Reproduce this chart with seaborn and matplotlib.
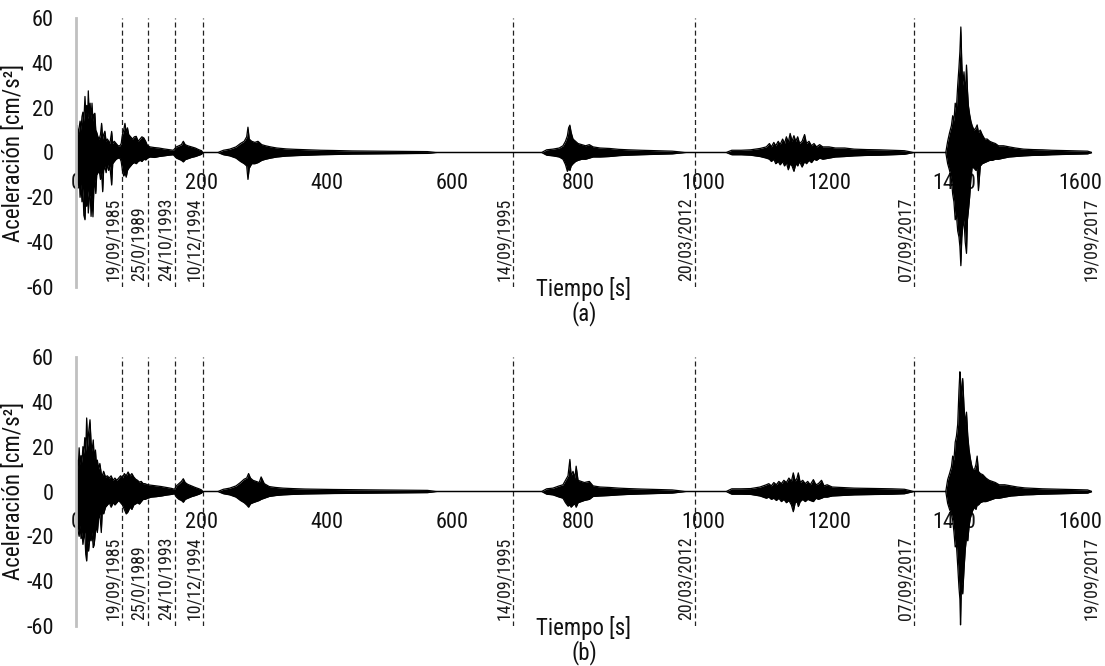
import numpy as np
import pandas as pd
import matplotlib
matplotlib.use("Agg")
import matplotlib.pyplot as plt
import seaborn as sns
from matplotlib import font_manager

# ---------------- data (envelopes) ----------------
# each row: (time [s], upper peak [cm/s2], lower peak [cm/s2])
a_ev1 = [(0, 0, 0), (0.8, 10, -8), (2, 12, -12), (3.5, 8, -15), (5, 11, -10), (6.5, 14, -20),
         (8, 10, -14), (9.5, 16, -22), (11, 18, -16), (12.5, 14, -28), (14.3, 25, -30),
         (15.5, 17, -20), (17, 21, -24), (18.5, 15, -17), (19.6, 27.5, -27), (21, 16, -20),
         (22.5, 22, -18), (24, 15, -28.5), (25.5, 22, -20), (27, 14, -28.7), (28.5, 17, -16),
         (30, 17.5, -12), (31.5, 10, -18.3), (33, 9, -10), (35, 7, -9), (37, 6, -8), (39, 8, -12),
         (40.8, 13, -9), (42.5, 6, -17.5), (44, 8, -8), (46, 9.5, -6), (48, 5, -9), (50, 6, -5),
         (52, 5, -8), (54, 4, -6), (56.8, 9.4, -14.5), (58.5, 4, -5), (61, 5, -4), (64, 4, -3),
         (67, 3, -2.5), (70, 3, -2.5)]
a_ev2 = [(72, 4, -4), (74, 8, -8), (76, 10, -10.5), (78, 13, -9), (80, 9, -11), (82, 11, -8),
         (84, 8, -7), (87, 7, -6), (90, 6, -5), (93, 7, -4.5), (96, 7.2, -5), (99, 5, -4),
         (102, 6, -3.5), (105, 7, -4), (108, 6.5, -3), (111, 5, -3.3), (114, 3, -2.5)]
a_ev3 = [(118, 2.5, -2), (125, 2.2, -2.2), (132, 2, -1.8), (140, 1.6, -1.5), (148, 1.3, -1.2),
         (155, 1, -1)]
a_ev4 = [(160, 2.5, -2.5), (164, 3, -3), (168, 3.5, -3.5), (171, 5, -4.2), (174, 3.5, -3.2),
         (178, 3, -2.8), (184, 2.5, -2.2), (190, 2, -1.8), (196, 1.2, -1.2), (200, 0.8, -0.8),
         (202, 0, 0)]
a_ev5 = [(226, 0, 0), (235, 1, -1), (245, 1.5, -1.5), (255, 2.5, -2.5), (262, 4, -4), (268, 5, -5),
         (272, 7, -6), (274, 11.3, -12), (276, 6, -7), (280, 5, -5), (285, 4.5, -5), (290, 5, -4.5),
         (296, 3.5, -3.5), (302, 3, -3), (310, 2.5, -2.5), (320, 2, -2), (335, 1.6, -1.6),
         (350, 1.4, -1.4), (370, 1.2, -1.2), (390, 1, -1), (410, 0.9, -0.9), (440, 0.7, -0.7),
         (480, 0.6, -0.6), (520, 0.5, -0.5), (560, 0.4, -0.4), (575, 0, 0)]
a_ev6 = [(742, 0, 0), (750, 1.2, -1.2), (760, 1.5, -1.5), (770, 2, -2), (776, 3, -3), (780, 5, -5.4),
         (783, 7.4, -8.4), (785, 11, -7), (787, 12.2, -8), (789, 9, -6), (792, 6, -5), (796, 5, -4),
         (800, 4, -3.5), (806, 3.5, -3), (812, 3, -3), (818, 3.5, -2.5), (824, 2.5, -2),
         (835, 2, -2), (850, 1.8, -1.8), (865, 1.4, -1.4), (880, 1.2, -1.2), (900, 1, -1),
         (925, 0.8, -0.8), (950, 0.6, -0.6), (972, 0, 0)]
a_ev7 = [(1036, 0, 0), (1045, 1, -1), (1060, 1, -1), (1075, 1.2, -1.2), (1090, 1.8, -1.8),
         (1100, 2.5, -2.5), (1105, 4, -3), (1108, 2.5, -4), (1112, 4.5, -3), (1115, 3, -5),
         (1119, 5, -4), (1122, 3.5, -5.5), (1126, 6, -4), (1129, 4, -6), (1132, 7, -4.5),
         (1135, 4.5, -7.7), (1138, 8.5, -5), (1141, 5, -6), (1144, 7.5, -8.4), (1147, 5, -5),
         (1150, 7, -6), (1153, 4, -4), (1157, 5, -6.5), (1161, 8, -4), (1164, 4, -5),
         (1168, 5, -3.5), (1172, 3, -4.5), (1176, 4, -3), (1180, 2.5, -3.5), (1185, 3.5, -2.5),
         (1190, 2.5, -3), (1200, 2.5, -2.5), (1210, 2, -2), (1225, 2, -1.8), (1240, 1.5, -1.5),
         (1260, 1.3, -1.3), (1280, 1.2, -1.2), (1300, 1, -1), (1320, 0.8, -0.8), (1335, 0, 0)]
a_ev8 = [(1386, 0, 0), (1389, 5, -5), (1392, 8.8, -8), (1395, 12, -12), (1397, 16.4, -18.6),
         (1399, 14, -22), (1401, 22, -30), (1403, 20, -28), (1405, 30, -35), (1407, 38, -37.7),
         (1408.5, 45, -42), (1410, 56, -50.5), (1411.5, 40, -38), (1413, 30, -33), (1415, 36, -30),
         (1417, 25, -40), (1419, 39, -45), (1420.5, 28, -30), (1422, 21, -26), (1424, 17, -20),
         (1426, 14, -12), (1428, 12, -6.5), (1431, 10, -7), (1434, 11, -8), (1436, 12.3, -7),
         (1438, 9, -17), (1441, 10, -6), (1444, 8, -5), (1448, 6, -4.5), (1452, 6, -4),
         (1456, 5, -3.5), (1460, 4.5, -3.5), (1465, 4, -3), (1470, 3, -3), (1478, 3, -2.5),
         (1487, 2.5, -2), (1497, 2, -1.8), (1510, 1.5, -1.5), (1525, 1.3, -1.3), (1540, 1.2, -1.2),
         (1555, 1, -1), (1570, 0.9, -0.9), (1585, 0.8, -0.8), (1600, 0.7, -0.7), (1612, 0.6, -0.6),
         (1619, 0, 0)]

b_ev1 = [(0, 0, 0), (0.8, 12, -14), (2, 14, -16), (3.5, 10, -18), (5, 19.5, -20), (6.5, 12, -15),
         (8, 16, -21), (9.5, 13, -18), (11, 20, -23.6), (12.5, 17, -20), (14, 24, -18),
         (15.5, 18, -28), (17, 32.8, -31), (18.5, 20, -22), (20, 26, -26.6), (22.3, 32, -20),
         (24, 22, -22), (25.5, 18, -18), (27.5, 23, -25), (29, 15, -23.6), (31, 18.5, -18),
         (32.5, 12, -15), (34, 14, -18.3), (36, 10, -12), (38, 12.5, -10), (40.3, 8, -18.3),
         (42, 7, -8), (44, 9, -10), (47, 6.5, -7), (50, 7, -6), (53, 6, -5), (56, 7, -7),
         (59, 5, -5), (62, 6, -6), (65, 5, -5), (68, 6, -4), (71, 7, -5)]
b_ev2 = [(74, 6, -6), (77, 8, -8), (80, 7, -10), (83, 8.7, -9), (86, 7, -7), (89, 8, -8),
         (92, 6.5, -6), (95, 5.5, -5.5), (98, 5, -5), (101, 4.2, -5.6), (104, 4.5, -4.5),
         (107, 3.5, -3.5), (110, 3.5, -3.5), (114, 3, -3)]
b_ev3 = [(120, 2.8, -2.5), (128, 2.5, -2.3), (136, 2.2, -2), (144, 1.8, -1.6), (152, 1.4, -1.3),
         (157, 1, -1)]
b_ev4 = [(160, 2.5, -2.5), (164, 3.5, -3.5), (168, 4.5, -4), (171, 5.7, -4.8), (174, 4, -3.5),
         (178, 3.2, -3), (184, 2.5, -2.3), (190, 1.8, -1.8), (196, 1.2, -1.2), (200, 0.7, -0.7),
         (202, 0, 0)]
b_ev5 = [(226, 0, 0), (235, 1, -1), (245, 1.5, -1.5), (255, 2.5, -2.5), (262, 4, -4), (268, 5.5, -5),
         (272, 6, -6), (275, 8, -7), (278, 6, -5.5), (282, 5, -5), (287, 4.5, -4.5), (292, 4, -4),
         (295, 6.5, -3.5), (300, 3.5, -3), (308, 2.2, -2.2), (318, 1.8, -1.8), (330, 1.5, -1.5),
         (345, 1.3, -1.3), (365, 1.1, -1.1), (385, 1, -1), (410, 0.9, -0.9), (440, 0.8, -0.8),
         (480, 0.7, -0.7), (520, 0.6, -0.6), (560, 0.5, -0.5), (575, 0, 0)]
b_ev6 = [(742, 0, 0), (750, 1.2, -1.2), (760, 1.5, -1.5), (770, 2.5, -2.5), (776, 3, -3), (780, 5, -5),
         (784, 7, -6.5), (787, 14.3, -6), (789, 7, -7), (792, 9, -6), (795, 6, -5.5), (797, 11.3, -7),
         (800, 5, -5), (805, 4.5, -4.5), (810, 4, -4), (818, 4.5, -3.5), (824, 2.5, -2.2),
         (835, 2, -2), (850, 1.8, -1.8), (865, 1.5, -1.5), (880, 1.3, -1.3), (900, 1.1, -1.1),
         (925, 0.9, -0.9), (950, 0.7, -0.7), (972, 0, 0)]
b_ev7 = [(1036, 0, 0), (1045, 1.2, -1.2), (1060, 1.2, -1.2), (1075, 1.3, -1.3), (1090, 2, -2),
         (1100, 3, -3), (1104, 3.5, -2.5), (1108, 2.5, -3.5), (1112, 4, -3), (1116, 3, -4),
         (1120, 4.5, -3), (1124, 3.5, -4.5), (1128, 5, -3.5), (1132, 4, -5), (1136, 6, -4),
         (1140, 4.5, -6), (1143, 8.3, -9), (1146, 4.5, -5), (1149, 6, -4.5), (1151, 8.3, -6.7),
         (1154, 4, -4.5), (1158, 5, -3.5), (1162, 3.5, -4.5), (1166, 4.5, -3.5), (1170, 3, -4),
         (1175, 5.3, -4.5), (1179, 3, -3), (1183, 3.5, -3.5), (1188, 5, -3), (1192, 2.5, -2.5),
         (1197, 3, -2.5), (1205, 2, -2), (1220, 1.8, -1.8), (1240, 1.5, -1.5), (1260, 1.4, -1.4),
         (1280, 1.3, -1.3), (1300, 1.2, -1.2), (1320, 1, -1), (1335, 0, 0)]
b_ev8 = [(1386, 0, 0), (1389, 5.3, -5.3), (1392, 8, -8), (1395, 11, -10), (1397, 15.8, -12.8),
         (1399, 14, -18), (1401, 22, -24.7), (1403, 24.7, -24), (1405, 30, -33), (1407, 45, -42.8),
         (1408.5, 53.4, -48), (1409.5, 50, -59.5), (1411, 42, -40), (1413, 50.4, -45.7),
         (1415, 38, -35), (1417, 30, -26), (1419, 35.4, -20.3), (1421, 25, -22), (1423, 18.9, -15.8),
         (1425, 15, -12), (1427, 12, -10), (1429, 9.9, -8.3), (1432, 10, -7), (1434, 12, -8),
         (1436, 15.8, -6), (1438, 9, -6), (1441, 8, -5), (1445, 7.5, -4.5), (1450, 6, -4.5),
         (1455, 5, -4), (1460, 4.5, -3.5), (1465, 4, -3), (1471, 3, -3), (1480, 3, -2.5),
         (1490, 2.5, -2), (1500, 2, -1.8), (1512, 1.6, -1.5), (1525, 1.4, -1.4), (1540, 1.2, -1.2),
         (1555, 1.1, -1.1), (1570, 1, -1), (1585, 0.9, -0.9), (1600, 0.8, -0.8), (1612, 0.7, -0.7),
         (1619, 0, 0)]

event_times = [73, 114.6, 157.6, 202, 696, 986, 1336, 1632]
event_dates = ["19/09/1985", "25/0/1989", "24/10/1993", "10/12/1994",
               "14/09/1995", "20/03/2012", "07/09/2017", "19/09/2017"]
x_ticks = [0, 200, 400, 600, 800, 1000, 1200, 1400, 1600]
y_ticks = [-60, -40, -20, 0, 20, 40, 60]
panel_tags = ["(a)", "(b)"]

# ---------------- style ----------------
sns.set_theme(style="white")
names = {f.name for f in font_manager.fontManager.ttflist}
narrow_names = ["Liberation Sans Narrow", "Arial Narrow", "Roboto Condensed",
                "Noto Sans Condensed", "Open Sans Condensed"]
base = next((n for n in narrow_names if n in names), None)
narrow = base is not None
if base is None:
    base = "Liberation Sans"
plt.rcParams["font.family"] = [base, "DejaVu Sans"]
fs_tick = 16 if narrow else 14
fs_lab = 16.5 if narrow else 14
fs_date = 12.8 if narrow else 10.5


def to_frame(events):
    rows = [r for ev in events for r in ev]
    return pd.DataFrame(rows, columns=["t", "hi", "lo"])


panels = [to_frame([a_ev1, a_ev2, a_ev3, a_ev4, a_ev5, a_ev6, a_ev7, a_ev8]),
          to_frame([b_ev1, b_ev2, b_ev3, b_ev4, b_ev5, b_ev6, b_ev7, b_ev8])]

W, H = 1105, 666
fig = plt.figure(figsize=(W / 100, H / 100), dpi=100)
tops = [18, 357]
ax_h = 269
for k, df in enumerate(panels):
    top = tops[k]
    ax = fig.add_axes([76 / W, 1 - (top + ax_h) / H, 1016 / W, ax_h / H])
    ax.set_axisbelow(True)
    # event separators
    for tt, lab in zip(event_times, event_dates):
        if tt <= 1619:
            ax.axvline(tt, color="#222222", lw=0.9, ls=(0, (4, 2.5)), zorder=1)
        ax.text(tt, -57.2, lab, rotation=90, ha="right", va="bottom",
                fontsize=fs_date, color="#1a1a1a", clip_on=False, zorder=3)
    # accelerogram envelope
    ax.fill_between(df["t"], df["lo"], df["hi"], color="black", lw=0, zorder=2)
    sns.lineplot(data=df, x="t", y="hi", ax=ax, color="black", lw=0.9,
                 estimator=None, sort=False, zorder=2)
    sns.lineplot(data=df, x="t", y="lo", ax=ax, color="black", lw=0.9,
                 estimator=None, sort=False, zorder=2)

    ax.set_xlim(0, 1619)
    ax.set_ylim(-60, 60)
    ax.set_xticks(x_ticks)
    ax.set_xticklabels([str(v) for v in x_ticks])
    ax.set_yticks(y_ticks)
    ax.set_yticklabels([str(v) for v in y_ticks])
    for s in ["top", "right", "bottom"]:
        ax.spines[s].set_visible(False)
    ax.spines["bottom"].set_position(("data", 0))
    ax.spines["left"].set_color("#c0c0c0")
    ax.spines["left"].set_linewidth(2)
    ax.tick_params(axis="x", length=0, pad=15, labelsize=fs_tick, colors="#111111")
    ax.tick_params(axis="y", length=0, pad=16, labelsize=fs_tick, colors="#111111")

    ax.set_ylabel("Aceleración [cm/s²]", fontsize=fs_lab, color="#111111")
    ax.yaxis.set_label_coords(-0.05, 0.5)
    ax.set_xlabel("Tiempo [s]", fontsize=fs_lab, color="#111111")
    ax.xaxis.set_label_coords(0.5, 0.037)
    ax.text(0.5, -0.097, panel_tags[k], transform=ax.transAxes, ha="center",
            va="center", fontsize=fs_lab, color="#111111")

fig.savefig("out.png", dpi=100, facecolor="white")
